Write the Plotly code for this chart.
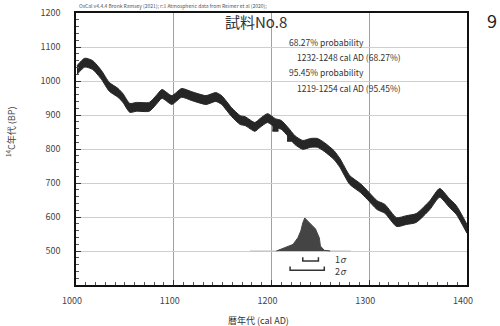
import plotly.graph_objects as go

# ---- data ----
curve_years = [1001, 1009, 1017, 1026, 1034, 1043, 1048, 1055, 1062, 1075, 1082, 1088, 1098, 1108,
               1118, 1133, 1143, 1149, 1159, 1168, 1173, 1183, 1188, 1196, 1204, 1210, 1217, 1224,
               1232, 1240, 1247, 1254, 1264, 1270, 1280, 1291, 1298, 1308, 1316, 1328, 1338, 1348,
               1362, 1372, 1382, 1389, 1400]
curve_bp = [1032, 1054, 1047, 1018, 983, 965, 950, 921, 924, 924, 944, 962, 944, 965,
            956, 944, 953, 944, 909, 885, 882, 865, 876, 891, 876, 871, 850, 826,
            812, 818, 818, 806, 782, 759, 709, 685, 665, 635, 624, 585, 591, 597,
            635, 671, 641, 621, 565]
curve_sigma = 13

dist_years = [1205, 1213, 1217, 1222, 1227, 1230, 1232, 1234, 1235, 1239, 1242, 1245, 1249, 1250, 1254, 1260]
dist_prob = [0.0, 0.10, 0.15, 0.20, 0.40, 0.61, 0.85, 1.0, 0.97, 0.85, 0.76, 0.67, 0.39, 0.15, 0.02, 0.0]

sigma1_range = [1232, 1248]
sigma2_range = [1219, 1254]

mark_years = [1204, 1219, 1234]
mark_bp = [862, 832, 812]

x_ticks = [1000, 1100, 1200, 1300, 1400]
y_ticks = [500, 600, 700, 800, 900, 1000, 1100, 1200]

info_lines = ["68.27% probability", "1232-1248 cal AD (68.27%)",
              "95.45% probability", "1219-1254 cal AD (95.45%)"]
header_text = "OxCal v4.4.4 Bronk Ramsey (2021); r:1 Atmospheric data from Reimer et al (2020);"
title_text = "試料No.8"
panel_label = "9"
x_title = "暦年代 (cal AD)"
y_title = "<sup>14</sup>C年代 (BP)"

FONT = "Noto Sans CJK JP"
DARK = "#262626"

fig = go.Figure()

upper = [v + curve_sigma for v in curve_bp]
lower = [v - curve_sigma for v in curve_bp]
fig.add_trace(go.Scatter(x=curve_years, y=upper, mode="lines",
                         line=dict(color=DARK, width=1, shape="spline", smoothing=0.6),
                         hoverinfo="skip", showlegend=False))
fig.add_trace(go.Scatter(x=curve_years, y=lower, mode="lines", fill="tonexty",
                         fillcolor=DARK,
                         line=dict(color=DARK, width=1, shape="spline", smoothing=0.6),
                         hoverinfo="skip", showlegend=False))

fig.add_trace(go.Scatter(x=mark_years, y=mark_bp, mode="markers",
                         marker=dict(symbol="square", size=6, color=DARK),
                         error_y=dict(type="constant", value=8, color=DARK, thickness=2, width=3),
                         hoverinfo="skip", showlegend=False))

# distribution baseline
fig.add_trace(go.Scatter(x=[1178, 1281], y=[0, 0], yaxis="y2", mode="lines",
                         line=dict(color="#bdbdbd", width=1), hoverinfo="skip", showlegend=False))
fig.add_trace(go.Scatter(x=dist_years, y=dist_prob, yaxis="y2", mode="lines",
                         fill="tozeroy", fillcolor="#444444",
                         line=dict(color="#444444", width=1),
                         hoverinfo="skip", showlegend=False))

# sigma brackets
for rng, yb in ((sigma1_range, -0.30), (sigma2_range, -0.58)):
    fig.add_trace(go.Scatter(x=[rng[0], rng[0], rng[1], rng[1]],
                             y=[yb + 0.11, yb, yb, yb + 0.11], yaxis="y2", mode="lines",
                             line=dict(color="#333333", width=1.5),
                             hoverinfo="skip", showlegend=False))

L, R, T, B = 76, 33, 13, 41
W, H = 500, 326
pw, ph = W - L - R, H - T - B


def px(x):
    return (x - L) / pw


def py(y):
    return (H - B - y) / ph


ann = []
ann.append(dict(text=header_text, x=px(77), y=py(6), xanchor="left", yanchor="middle",
                font=dict(size=5, color="#555", family=FONT)))
ann.append(dict(text=title_text, x=px(256), y=py(21), xanchor="center", yanchor="middle",
                font=dict(size=15, color="#333", family=FONT)))
ann.append(dict(text=panel_label, x=px(492), y=py(20), xanchor="center", yanchor="middle",
                font=dict(size=18, color="#222", family=FONT)))
for txt, xx, yy in zip(info_lines, [287, 295, 287, 295], [42, 57, 72, 88]):
    ann.append(dict(text=txt, x=px(xx), y=py(yy), xanchor="left", yanchor="middle",
                    font=dict(size=8.5, color="#333", family=FONT)))
ann.append(dict(text="1<i>σ</i>", x=px(333), y=py(259), xanchor="left", yanchor="middle",
                font=dict(size=9, color="#333", family=FONT)))
ann.append(dict(text="2<i>σ</i>", x=px(333), y=py(271), xanchor="left", yanchor="middle",
                font=dict(size=9, color="#333", family=FONT)))
ann.append(dict(text=x_title, x=px(258), y=py(320), xanchor="center", yanchor="middle",
                font=dict(size=9, color="#333", family=FONT)))
ann.append(dict(text=y_title, x=px(11), y=py(132), xanchor="center", yanchor="middle",
                textangle=-90, font=dict(size=9, color="#444", family=FONT)))
for a in ann:
    a.update(xref="paper", yref="paper", showarrow=False)

fig.update_layout(
    template="none",
    autosize=False,
    width=W, height=H,
    margin=dict(l=L, r=R, t=T, b=B, pad=0, autoexpand=False),
    paper_bgcolor="white", plot_bgcolor="white",
    font=dict(family=FONT, size=9, color="#444"),
    annotations=ann,
    showlegend=False,
    xaxis=dict(range=[1000, 1400], tickvals=x_ticks, ticktext=[str(v) for v in x_ticks],
               automargin=False,
               showgrid=True, gridcolor="#a0a0a0", gridwidth=1,
               showline=True, linecolor="#111", linewidth=1.5, mirror=True,
               ticks="inside", ticklen=5, tickcolor="#333",
               minor=dict(dtick=10, ticks="inside", ticklen=3, tickcolor="#555", showgrid=False),
               ticklabelstandoff=6, ticklabelshift=-4,
               tickfont=dict(size=9, color="#444", family=FONT), zeroline=False, fixedrange=True),
    yaxis=dict(range=[400, 1200], tickvals=y_ticks, ticktext=[str(v) for v in y_ticks],
               automargin=False,
               showgrid=True, gridcolor="#cfcfcf", gridwidth=1,
               showline=True, linecolor="#111", linewidth=1.5, mirror=True,
               ticks="inside", ticklen=5, tickcolor="#333",
               minor=dict(dtick=20, ticks="inside", ticklen=3, tickcolor="#555", showgrid=False),
               ticklabelstandoff=12,
               tickfont=dict(size=9, color="#444", family=FONT), zeroline=False, fixedrange=True),
    yaxis2=dict(range=[-1.03, 7.21], overlaying="y", visible=False, fixedrange=True,
                automargin=False),
)

fig.write_html("out.html", config={"displayModeBar": False},
               post_script="document.body.style.margin='0';document.body.style.padding='0';")
